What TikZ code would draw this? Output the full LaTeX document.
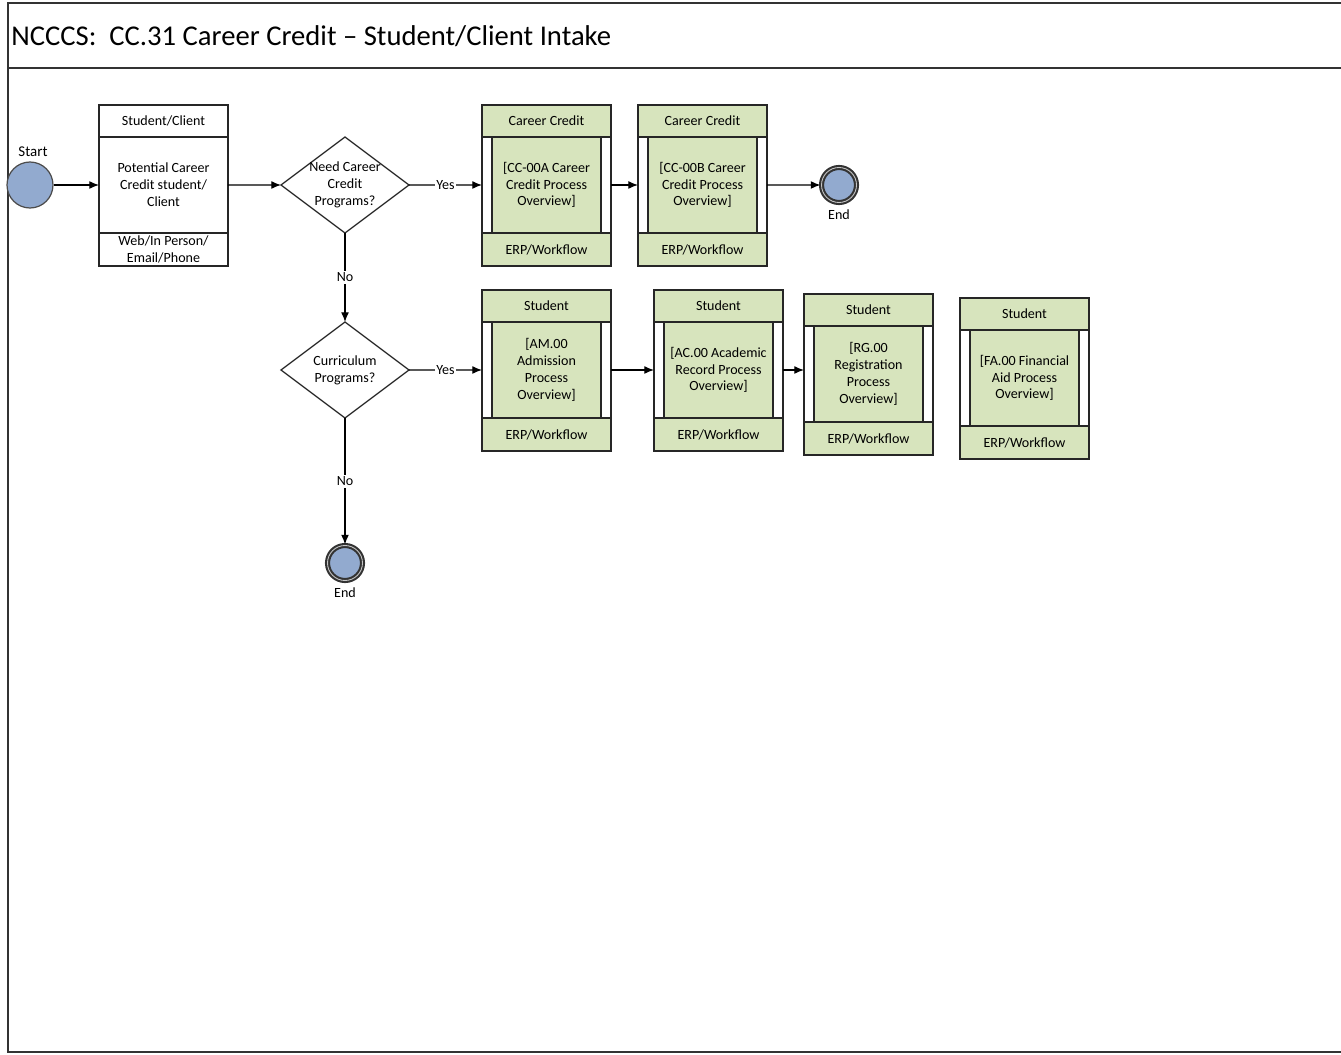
\documentclass[tikz,border=0pt]{standalone}
\usepackage{fontspec}
\setmainfont{Carlito}
\usetikzlibrary{positioning,shapes.geometric,arrows.meta}

\definecolor{procgreen}{RGB}{215,228,189}
\definecolor{eventblue}{RGB}{146,170,207}

\tikzset{
  boxfont/.style={font=\fontsize{8}{9.6}\selectfont},
  base/.style={rectangle, draw=black!85, line width=0.7pt, inner sep=0pt, outer sep=0pt,
    minimum width=2.58cm, align=center, boxfont},
  hdr/.style={base, fill=procgreen, minimum height=0.64cm},
  body/.style={base, fill=procgreen, minimum height=1.92cm},
  ftr/.style={base, fill=procgreen, minimum height=0.66cm},
  strip/.style={draw=black!85, line width=0.7pt, fill=white},
  decision/.style={diamond, draw=black!85, line width=0.7pt, fill=white, inner sep=0pt,
    outer sep=0pt, minimum width=2.56cm, minimum height=1.92cm},
  startev/.style={circle, draw=black!70, fill=eventblue, line width=0.7pt, inner sep=0pt,
    minimum size=0.92cm},
  endev/.style={circle, fill=eventblue, draw=black!80, line width=1.2pt, double=gray!45,
    double distance=0.5pt, inner sep=0pt, minimum size=0.7cm},
  flow/.style={-{Latex[length=5.5pt,width=4.5pt]}, line width=0.7pt},
  lbl/.style={boxfont, fill=white, inner sep=1pt}
}

\begin{document}
\begin{tikzpicture}[x=0.02cm,y=-0.02cm]
\useasboundingbox (0,0) rectangle (1341,1054);

% page frame and title bar
\draw[black!80, line width=0.8pt] (1345,3) -- (8,3) -- (8,1052) -- (1345,1052);
\draw[black!80, line width=0.8pt] (8,68) -- (1345,68);
\node[anchor=west, inner sep=0pt, font=\fontsize{16.3}{19}\selectfont] (title) at (11,36)
  {NCCCS:\ \ CC.31 Career Credit – Student/Client Intake};

% start event
\node[startev] (start) at (30,185) {};
\node[font=\fontsize{8.5}{10}\selectfont] (startlbl) at (33,152) {Start};

% student/client intake box
\node[hdr, fill=white] (scH) at (163.5,121) {Student/Client};
\node[body, fill=white, below=0pt of scH] (sc) {Potential Career\\Credit student/\\Client};
\node[ftr, fill=white, below=0pt of sc] (scF) {Web/In Person/\\Email/Phone};

% decisions
\node[decision, label={[boxfont, align=center]center:Need Career\\Credit\\Programs?}] (d1) at (345,185) {};
\node[decision, label={[boxfont, align=center]center:Curriculum\\Programs?}] (d2) at (345,370) {};

% career credit sub-processes
\node[hdr] (ccaH) at (546.5,121) {Career Credit};
\node[body, below=0pt of ccaH] (cca) {[CC-00A Career\\Credit Process\\Overview]};
\node[ftr, below=0pt of cca] (ccaF) {ERP/Workflow};
\filldraw[strip] (cca.north west) rectangle ([xshift=0.2cm]cca.south west);
\filldraw[strip] (cca.north east) rectangle ([xshift=-0.2cm]cca.south east);

\node[hdr] (ccbH) at (702.5,121) {Career Credit};
\node[body, below=0pt of ccbH] (ccb) {[CC-00B Career\\Credit Process\\Overview]};
\node[ftr, below=0pt of ccb] (ccbF) {ERP/Workflow};
\filldraw[strip] (ccb.north west) rectangle ([xshift=0.2cm]ccb.south west);
\filldraw[strip] (ccb.north east) rectangle ([xshift=-0.2cm]ccb.south east);

% curriculum sub-processes
\node[hdr] (amH) at (546.5,306) {Student};
\node[body, below=0pt of amH] (am) {[AM.00\\Admission\\Process\\Overview]};
\node[ftr, below=0pt of am] (amF) {ERP/Workflow};
\filldraw[strip] (am.north west) rectangle ([xshift=0.2cm]am.south west);
\filldraw[strip] (am.north east) rectangle ([xshift=-0.2cm]am.south east);

\node[hdr] (acH) at (718.5,306) {Student};
\node[body, below=0pt of acH] (ac) {[AC.00 Academic\\Record Process\\Overview]};
\node[ftr, below=0pt of ac] (acF) {ERP/Workflow};
\filldraw[strip] (ac.north west) rectangle ([xshift=0.2cm]ac.south west);
\filldraw[strip] (ac.north east) rectangle ([xshift=-0.2cm]ac.south east);

\node[hdr] (rgH) at (868.5,310) {Student};
\node[body, below=0pt of rgH] (rg) {[RG.00\\Registration\\Process\\Overview]};
\node[ftr, below=0pt of rg] (rgF) {ERP/Workflow};
\filldraw[strip] (rg.north west) rectangle ([xshift=0.2cm]rg.south west);
\filldraw[strip] (rg.north east) rectangle ([xshift=-0.2cm]rg.south east);

\node[hdr] (faH) at (1024.5,314) {Student};
\node[body, below=0pt of faH] (fa) {[FA.00 Financial\\Aid Process\\Overview]};
\node[ftr, below=0pt of fa] (faF) {ERP/Workflow};
\filldraw[strip] (fa.north west) rectangle ([xshift=0.2cm]fa.south west);
\filldraw[strip] (fa.north east) rectangle ([xshift=-0.2cm]fa.south east);

% end events
\node[endev, label={[boxfont]below:End}] (end1) at (839,185) {};
\node[endev, label={[boxfont]below:End}] (end2) at (345,563) {};

% flow
\draw[flow] (start.east) -- (start.east -| sc.west);
\draw[flow] (sc.east) -- (d1.west);
\draw[flow] (d1.east) -- node[lbl] {Yes} (cca.west);
\draw[flow] (cca.east) -- (ccb.west);
\draw[flow] (ccb.east) -- (end1.west);
\draw[flow] (d1.south) -- node[lbl] {No} (d2.north);
\draw[flow] (d2.east) -- node[lbl] {Yes} (am.west);
\draw[flow] (am.east) -- (ac.west);
\draw[flow] (ac.east) -- (ac.east -| rg.west);
\draw[flow] (d2.south) -- node[lbl] {No} (end2.north);
\end{tikzpicture}
\end{document}
